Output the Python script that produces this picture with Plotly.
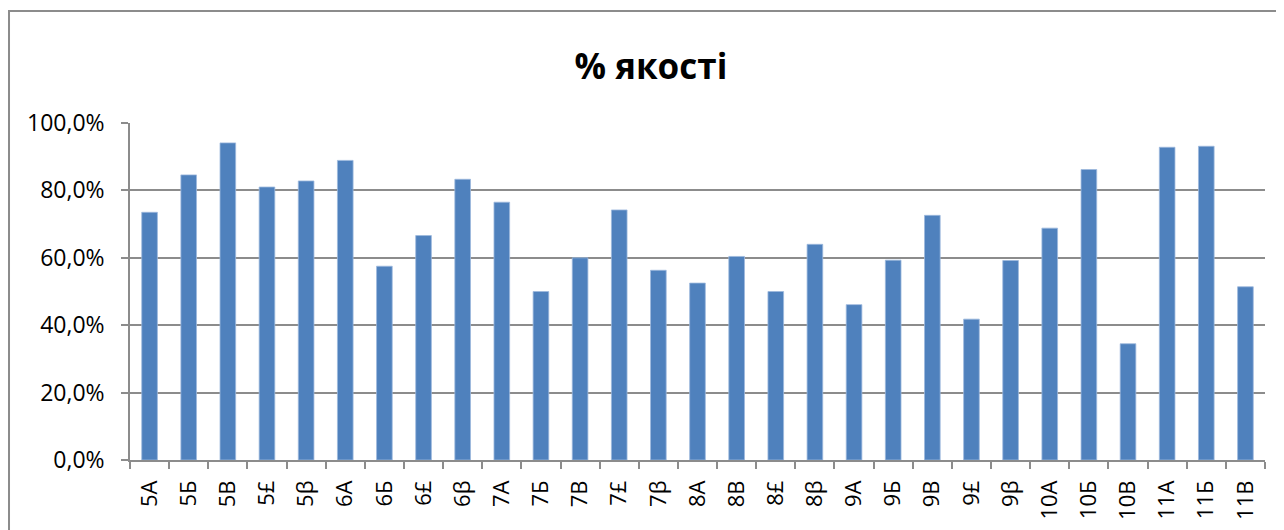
import plotly.graph_objects as go

classes = ["5А", "5Б", "5В", "5£", "5β", "6А", "6Б", "6£", "6β", "7А", "7Б", "7В", "7£", "7β",
           "8А", "8В", "8£", "8β", "9А", "9Б", "9В", "9£", "9β", "10А", "10Б", "10В", "11А", "11Б", "11В"]
quality = [73.5, 84.6, 94.1, 81.0, 82.8, 88.9, 57.5, 66.6, 83.3, 76.5, 50.0, 60.0, 74.2, 56.3,
           52.5, 60.4, 50.0, 64.0, 46.1, 59.3, 72.6, 41.8, 59.2, 68.8, 86.2, 34.5, 92.8, 93.1, 51.4]
y_ticks = [0, 0.2, 0.4, 0.6, 0.8, 1.0]
title_text = "% якості"

values = [v / 100 for v in quality]

fig = go.Figure(go.Bar(
    x=classes, y=values,
    marker=dict(color="#4F81BD", line=dict(color="#9DB9DD", width=0.8)),
))

fig.update_layout(
    width=1284, height=530,
    margin=dict(l=122, r=27, t=115, b=78),
    paper_bgcolor="white", plot_bgcolor="white",
    separators=", ",
    bargap=0.6,
    showlegend=False,
    font=dict(family="Open Sans, DejaVu Sans, sans-serif", color="black"),
    title=dict(text="<b>" + title_text + "</b>", xref="paper", x=0.459, xanchor="center",
               yref="container", y=0.889, yanchor="middle", font=dict(size=35, color="black")),
    shapes=[dict(type="rect", xref="paper", yref="paper", x0=-0.1066, x1=1.1, y0=-0.4, y1=1.332,
                 line=dict(color="#8C8C8C", width=2), fillcolor="rgba(0,0,0,0)", layer="below")],
)

fig.update_xaxes(
    type="category", tickangle=-90, tickfont=dict(size=22),
    showline=True, linecolor="#8C8C8C", linewidth=1.5,
    ticks="outside", tickson="boundaries", ticklen=7, tickcolor="#8C8C8C", tickwidth=1.5,
    ticklabelstandoff=10,
    showgrid=False,
)
fig.update_yaxes(
    range=[0, 1.0], tickvals=y_ticks, tickformat=".1%", tickfont=dict(size=23),
    showline=True, linecolor="#8C8C8C", linewidth=1.5,
    ticks="outside", ticklen=7, tickcolor="#8C8C8C", tickwidth=1.5,
    ticklabelstandoff=12,
    showgrid=True, gridcolor="#8C8C8C", gridwidth=1.5, zeroline=False,
)

fig.write_html("out.html")
